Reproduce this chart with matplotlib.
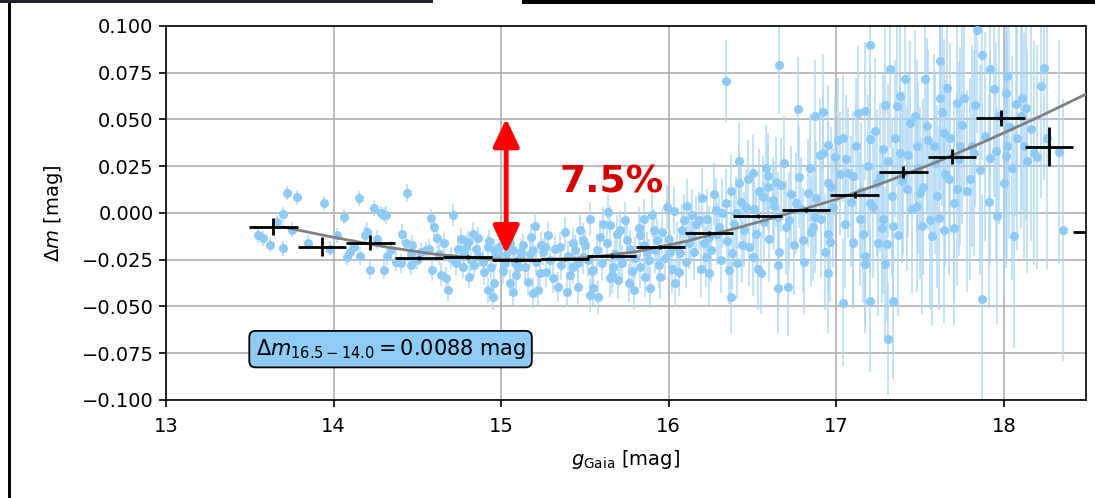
import matplotlib
matplotlib.use("Agg")
from matplotlib import pyplot as plt
from matplotlib.patches import Rectangle
import numpy as np

# individual stars: (g_gaia, delta_m, error)
stars_bright = [
    (13.58, -0.0134, 0.004), (13.62, -0.017, 0.004), (13.70, -0.0188, 0.004),
    (13.70, -0.0006, 0.004), (13.72, 0.0107, 0.004), (13.78, 0.0085, 0.004),
    (13.94, 0.0053, 0.004), (14.15, 0.008, 0.004), (14.24, 0.0026, 0.004),
    (14.28, 0.0, 0.004), (14.30, -0.001, 0.004), (14.20, -0.010, 0.005),
    (14.19, -0.012, 0.005), (14.10, -0.021, 0.004), (14.08, -0.0236, 0.004),
    (14.22, -0.0305, 0.005), (14.30, -0.0305, 0.005), (14.32, -0.023, 0.005),
    (13.55, -0.012, 0.004), (13.66, -0.005, 0.004), (13.75, -0.009, 0.004),
    (13.85, -0.016, 0.004), (13.98, -0.019, 0.004), (14.02, -0.012, 0.004),
    (14.06, -0.002, 0.004), (14.12, -0.018, 0.004), (14.16, -0.023, 0.005),
    (14.26, -0.014, 0.005), (14.34, -0.020, 0.005), (14.37, -0.026, 0.005),
    (14.41, -0.011, 0.005), (14.46, -0.022, 0.005), (14.31, -0.001, 0.005),
    (14.44, 0.0107, 0.005),
]

stars_mid = [
    (14.71, -0.001, 0.006), (14.58, -0.0027, 0.005), (14.60, -0.0075, 0.005),
    (14.62, -0.0134, 0.006), (14.43, -0.016, 0.005), (14.47, -0.017, 0.005),
    (14.55, -0.020, 0.005), (14.40, -0.027, 0.005), (14.46, -0.028, 0.005),
    (14.50, -0.025, 0.005), (14.59, -0.0305, 0.006), (14.64, -0.033, 0.006),
    (14.67, -0.035, 0.006), (14.68, -0.041, 0.006), (14.74, -0.019, 0.006),
    (14.79, -0.018, 0.006), (14.83, -0.011, 0.006), (14.86, -0.0134, 0.006),
    (14.77, -0.029, 0.006), (14.81, -0.034, 0.006), (14.84, -0.028, 0.006),
    (14.90, -0.0316, 0.007), (14.92, -0.0413, 0.007), (14.95, -0.045, 0.007),
    (14.96, -0.0375, 0.007), (14.92, -0.018, 0.006), (14.96, -0.020, 0.006),
    (15.05, -0.0375, 0.007), (15.07, -0.042, 0.007), (15.07, -0.020, 0.007),
    (15.12, -0.021, 0.007), (15.19, -0.020, 0.007), (15.20, -0.007, 0.007),
    (15.16, -0.037, 0.007), (15.19, -0.043, 0.008), (15.22, -0.041, 0.008),
    (15.10, -0.029, 0.007), (15.02, -0.027, 0.007), (15.24, -0.017, 0.007),
    (14.80, -0.0156, 0.006),
    (14.52, -0.021, 0.005), (14.57, -0.019, 0.005), (14.63, -0.022, 0.006),
    (14.66, -0.016, 0.006), (14.70, -0.024, 0.006), (14.73, -0.027, 0.006),
    (14.76, -0.014, 0.006), (14.78, -0.022, 0.006), (14.82, -0.025, 0.006),
    (14.85, -0.019, 0.006), (14.87, -0.023, 0.006), (14.89, -0.026, 0.006),
    (14.93, -0.015, 0.006), (14.94, -0.029, 0.007), (14.97, -0.023, 0.006),
    (14.99, -0.018, 0.006), (15.01, -0.031, 0.007), (15.03, -0.022, 0.006),
    (15.05, -0.016, 0.006), (15.08, -0.027, 0.007), (15.09, -0.033, 0.007),
    (15.11, -0.024, 0.006), (15.13, -0.017, 0.006), (15.14, -0.029, 0.007),
    (15.17, -0.022, 0.007), (15.18, -0.013, 0.007), (15.21, -0.026, 0.007),
    (15.23, -0.032, 0.007), (15.25, -0.021, 0.007), (15.28, -0.012, 0.007),
    (15.29, -0.025, 0.007), (15.31, -0.035, 0.008), (15.32, -0.019, 0.007),
    (15.36, -0.028, 0.008), (15.38, -0.010, 0.008), (15.40, -0.023, 0.008),
    (15.41, -0.033, 0.008), (15.44, -0.020, 0.008), (15.46, -0.027, 0.008),
    (15.47, -0.009, 0.008), (15.50, -0.017, 0.008),
]

stars_faint = [
    (15.53, -0.0033, 0.009), (15.64, 0.0005, 0.009), (15.65, -0.0065, 0.010),
    (15.99, 0.0032, 0.012), (15.85, -0.0033, 0.011), (15.26, -0.018, 0.008),
    (15.27, -0.0316, 0.008), (15.34, -0.0396, 0.008), (15.39, -0.0423, 0.008),
    (15.46, -0.0396, 0.009), (15.55, -0.040, 0.009), (15.53, -0.044, 0.009),
    (15.58, -0.045, 0.009), (15.65, -0.0348, 0.010), (15.70, -0.036, 0.010),
    (15.76, -0.0375, 0.010), (15.79, -0.041, 0.011), (15.89, -0.040, 0.011),
    (15.95, -0.034, 0.012), (16.04, -0.0375, 0.013), (16.06, -0.0316, 0.013),
    (15.43, -0.016, 0.008), (15.35, -0.018, 0.008), (15.49, -0.0145, 0.009),
    (15.59, -0.013, 0.009), (15.71, -0.009, 0.010), (15.75, -0.0145, 0.010),
    (15.83, -0.012, 0.011), (15.91, -0.009, 0.011), (15.93, -0.0145, 0.012),
    (16.09, -0.004, 0.014), (16.14, -0.001, 0.014), (16.13, -0.012, 0.014),
    (15.43, -0.029, 0.009), (15.55, -0.0305, 0.009), (15.67, -0.029, 0.010),
    (15.83, -0.029, 0.011), (15.71, -0.0236, 0.010), (15.49, -0.0236, 0.009),
    (15.87, -0.021, 0.011), (16.01, -0.021, 0.012), (16.07, -0.0215, 0.013),
    (15.52, -0.025, 0.009), (15.54, -0.031, 0.009), (15.57, -0.020, 0.009),
    (15.60, -0.027, 0.009), (15.61, -0.006, 0.009), (15.63, -0.016, 0.009),
    (15.66, -0.033, 0.010), (15.68, -0.022, 0.010), (15.69, -0.011, 0.010),
    (15.72, -0.027, 0.010), (15.74, -0.004, 0.010), (15.77, -0.019, 0.010),
    (15.78, -0.031, 0.010), (15.80, -0.024, 0.011), (15.82, -0.008, 0.011),
    (15.85, -0.017, 0.011), (15.86, -0.034, 0.011), (15.88, -0.025, 0.011),
    (15.90, -0.001, 0.012), (15.92, -0.020, 0.012), (15.94, -0.028, 0.012),
    (15.96, -0.010, 0.012), (15.98, -0.024, 0.012), (16.00, -0.014, 0.013),
    (16.02, -0.030, 0.013), (16.03, 0.001, 0.013), (16.05, -0.018, 0.013),
    (16.08, -0.009, 0.014), (16.10, -0.026, 0.014), (16.11, 0.004, 0.014),
    (16.12, -0.016, 0.014), (16.15, -0.021, 0.015), (16.16, -0.006, 0.015),
    (16.19, -0.030, 0.015), (16.20, 0.008, 0.016),
]

stars_fainter = [
    (16.34, 0.0706, 0.022), (16.66, 0.079, 0.026), (16.77, 0.0556, 0.028),
    (16.87, 0.052, 0.030), (16.92, 0.054, 0.031), (16.42, 0.028, 0.020),
    (16.50, 0.0214, 0.021), (16.59, 0.020, 0.023), (16.64, 0.0166, 0.024),
    (16.42, 0.016, 0.020), (16.95, 0.0363, 0.032), (16.92, 0.032, 0.031),
    (17.01, 0.039, 0.033), (17.04, 0.040, 0.034), (16.99, 0.030, 0.032),
    (16.95, 0.016, 0.032), (16.24, -0.032, 0.017), (16.36, -0.0305, 0.018),
    (16.37, -0.045, 0.019), (16.55, -0.032, 0.022), (16.65, -0.040, 0.024),
    (16.71, -0.0396, 0.026), (16.65, -0.028, 0.024), (16.95, -0.032, 0.032),
    (17.04, -0.048, 0.034), (16.22, -0.0236, 0.016), (16.38, -0.0215, 0.019),
    (16.50, -0.0236, 0.021), (16.24, -0.013, 0.017), (16.30, -0.0075, 0.017),
    (16.46, 0.0032, 0.020), (16.56, 0.0085, 0.022), (16.62, 0.007, 0.023),
    (16.65, -0.002, 0.024), (16.76, 0.0053, 0.027), (16.83, 0.0107, 0.029),
    (16.86, -0.0075, 0.029), (16.80, -0.0145, 0.028), (16.95, -0.011, 0.032),
    (16.96, -0.0156, 0.032), (17.10, -0.0156, 0.035), (17.07, 0.0214, 0.035),
    (16.40, 0.0, 0.019), (16.52, -0.011, 0.021), (16.18, -0.004, 0.015),
    (16.28, 0.0016, 0.017), (16.34, 0.0053, 0.018), (16.59, 0.0139, 0.023),
    (16.70, -0.0075, 0.025), (16.44, -0.017, 0.020), (16.87, -0.002, 0.030),
    (16.21, -0.016, 0.016), (16.23, -0.003, 0.016), (16.25, -0.020, 0.017),
    (16.27, 0.010, 0.017), (16.29, -0.011, 0.017), (16.31, -0.025, 0.018),
    (16.32, 0.000, 0.018), (16.35, -0.015, 0.018), (16.37, 0.012, 0.019),
    (16.39, -0.006, 0.019), (16.41, -0.027, 0.019), (16.43, 0.006, 0.020),
    (16.45, -0.009, 0.020), (16.47, 0.018, 0.021), (16.48, -0.018, 0.021),
    (16.51, 0.002, 0.021), (16.53, -0.030, 0.022), (16.54, 0.012, 0.022),
    (16.57, -0.005, 0.022), (16.58, 0.024, 0.023), (16.60, -0.014, 0.023),
    (16.63, 0.004, 0.024), (16.66, -0.021, 0.024), (16.67, 0.015, 0.025),
    (16.69, 0.027, 0.025), (16.72, -0.004, 0.026), (16.73, 0.010, 0.026),
    (16.75, -0.017, 0.027), (16.78, 0.019, 0.027), (16.79, 0.002, 0.028),
    (16.81, -0.026, 0.028), (16.84, 0.024, 0.029), (16.85, -0.010, 0.029),
    (16.88, 0.008, 0.030), (16.90, 0.031, 0.030), (16.91, -0.003, 0.031),
    (16.93, -0.021, 0.031), (16.97, 0.014, 0.032), (16.98, 0.003, 0.032),
]

stars_faintest = [
    (17.20, 0.090, 0.040), (17.62, 0.0813, 0.050), (17.32, 0.077, 0.042),
    (17.87, 0.0845, 0.056), (17.84, 0.098, 0.055), (17.41, 0.0716, 0.044),
    (17.53, 0.0716, 0.047), (17.66, 0.067, 0.051), (17.38, 0.0626, 0.043),
    (17.62, 0.0615, 0.050), (17.72, 0.0588, 0.052), (17.76, 0.0615, 0.053),
    (17.29, 0.0577, 0.041), (17.36, 0.057, 0.043), (17.13, 0.0535, 0.036),
    (17.17, 0.0545, 0.037), (17.94, 0.0663, 0.058), (17.92, 0.077, 0.057),
    (17.44, 0.048, 0.044), (17.54, 0.0465, 0.047), (17.64, 0.0428, 0.050),
    (17.20, 0.0395, 0.038), (17.28, 0.034, 0.040), (17.38, 0.032, 0.043),
    (17.48, 0.0358, 0.046), (17.58, 0.0358, 0.049), (17.74, 0.0358, 0.053),
    (17.82, 0.032, 0.055), (17.92, 0.0294, 0.057), (17.10, 0.0197, 0.035),
    (17.24, 0.016, 0.039), (17.42, 0.0128, 0.044), (17.50, 0.0107, 0.046),
    (17.60, 0.009, 0.049), (17.67, 0.018, 0.051), (17.72, 0.0128, 0.052),
    (17.80, 0.018, 0.054), (17.70, 0.0053, 0.052), (17.20, 0.0053, 0.038),
    (17.14, -0.0033, 0.036), (17.28, -0.0033, 0.040), (17.34, -0.007, 0.042),
    (17.51, -0.007, 0.047), (17.61, -0.0027, 0.049), (17.96, -0.0016, 0.058),
    (17.10, -0.016, 0.035), (17.25, -0.016, 0.039), (17.30, -0.0166, 0.041),
    (17.57, -0.0123, 0.048), (17.64, -0.009, 0.050), (17.17, -0.023, 0.037),
    (17.17, -0.0273, 0.037), (17.29, -0.0273, 0.041), (17.20, -0.047, 0.038),
    (17.34, -0.047, 0.042), (17.87, -0.046, 0.056), (17.31, -0.0675, 0.030),
    (17.40, 0.0214, 0.044), (17.48, 0.0037, 0.046),
    (17.02, 0.021, 0.033), (17.05, -0.006, 0.034), (17.06, 0.029, 0.034),
    (17.09, 0.006, 0.035), (17.12, 0.036, 0.036), (17.15, 0.012, 0.036),
    (17.16, -0.011, 0.037), (17.19, 0.025, 0.038), (17.22, 0.003, 0.038),
    (17.23, 0.044, 0.039), (17.26, 0.019, 0.040), (17.27, -0.008, 0.040),
    (17.31, 0.028, 0.041), (17.33, 0.009, 0.042), (17.35, 0.040, 0.042),
    (17.37, -0.012, 0.043), (17.39, 0.017, 0.044), (17.43, 0.031, 0.044),
    (17.45, 0.002, 0.045), (17.47, 0.052, 0.046), (17.49, 0.024, 0.046),
    (17.52, 0.014, 0.047), (17.55, 0.039, 0.048), (17.56, -0.004, 0.048),
    (17.59, 0.027, 0.049), (17.63, 0.054, 0.050), (17.65, 0.021, 0.050),
    (17.68, 0.040, 0.051), (17.70, -0.008, 0.052), (17.73, 0.029, 0.052),
    (17.75, 0.047, 0.053), (17.78, 0.012, 0.054), (17.81, 0.036, 0.054),
    (17.83, 0.058, 0.055), (17.86, 0.023, 0.056), (17.89, 0.041, 0.056),
    (17.91, 0.006, 0.057), (17.95, 0.033, 0.058), (17.97, 0.052, 0.058),
    (18.24, 0.0775, 0.060), (18.22, 0.068, 0.060), (18.07, 0.0583, 0.060),
    (18.11, 0.0615, 0.060), (18.13, 0.056, 0.060), (18.02, 0.0358, 0.060),
    (18.01, 0.0304, 0.060), (18.14, 0.0278, 0.060), (18.18, 0.032, 0.060),
    (18.33, 0.0326, 0.060), (18.00, 0.016, 0.060), (18.06, -0.0123, 0.060),
    (18.35, -0.009, 0.070), (18.01, 0.064, 0.060), (18.02, 0.073, 0.060),
    (18.03, 0.046, 0.060), (18.05, 0.024, 0.060), (18.08, 0.040, 0.060),
    (18.10, 0.052, 0.060), (18.12, 0.036, 0.060), (18.16, 0.045, 0.060),
    (18.20, 0.030, 0.060), (18.26, 0.040, 0.070),
]

# binned medians (black crosses)
bin_g = [13.64, 13.93, 14.22, 14.51, 14.80, 15.09, 15.38, 15.66, 15.95,
         16.24, 16.53, 16.82, 17.11, 17.40, 17.69, 17.98, 18.27, 18.56]
bin_dm = [-0.0073, -0.018, -0.0159, -0.024, -0.0235, -0.025, -0.0248, -0.023,
          -0.018, -0.0108, -0.0016, 0.0016, 0.0096, 0.0219, 0.030, 0.0508,
          0.0355, -0.010]
bin_dm_err = [0.0045, 0.005, 0.004, 0.001, 0.001, 0.001, 0.001, 0.001, 0.001,
              0.001, 0.001, 0.001, 0.0015, 0.003, 0.004, 0.0045, 0.0105, 0.01]
bin_half_width = 0.145

# fitted trend (grey curve) read at a few magnitudes
fit_g = [13.70, 14.00, 14.30, 14.60, 14.90, 15.20, 15.50, 15.80, 16.10,
         16.40, 16.70, 17.00, 17.30, 17.60, 17.90, 18.20, 18.50]
fit_dm = [-0.0075, -0.0130, -0.0180, -0.0220, -0.0245, -0.0250, -0.0240,
          -0.0208, -0.0152, -0.0082, -0.0007, 0.0073, 0.0168, 0.0273,
          0.0388, 0.0510, 0.0640]

stars = np.array(stars_bright + stars_mid + stars_faint + stars_fainter + stars_faintest)

fig = plt.figure(figsize=(10.95, 4.98), dpi=100)
ax = fig.add_axes([0.1516, 0.1968, 0.8402, 0.751])

ax.errorbar(stars[:, 0], stars[:, 1], yerr=stars[:, 2], fmt="none",
            ecolor="#a9d5f6", elinewidth=1.4, alpha=0.7, zorder=2)
ax.plot(stars[:, 0], stars[:, 1], "o", color="#8fcaf4", ms=6.5, mec="none", zorder=3)

ax.plot(fit_g, fit_dm, color="#808080", lw=2, zorder=4)
ax.errorbar(bin_g, bin_dm, xerr=bin_half_width, yerr=bin_dm_err, fmt="none",
            ecolor="black", elinewidth=2, zorder=5)

# red double arrow and label
ax.annotate("", xy=(15.03, 0.0505), xytext=(15.03, -0.0218),
            arrowprops=dict(arrowstyle="<|-|>,head_length=1.7,head_width=0.8",
                            color="#ff0000", lw=3.5, shrinkA=0, shrinkB=0), zorder=6)
ax.text(15.66, 0.0165, "7.5%", color="#d40000", fontsize=27, fontweight="bold",
        ha="center", va="center", zorder=6)

ax.text(14.34, -0.0728, r"$\Delta m_{16.5-14.0} = 0.0088$ mag", fontsize=15,
        ha="center", va="center", zorder=6,
        bbox=dict(boxstyle="round,pad=0.3", fc="#8ecbf5", ec="black", lw=1.3))

ax.set_xlim(13, 18.49)
ax.set_ylim(-0.1, 0.1)
ax.set_xticks([13, 14, 15, 16, 17, 18])
ax.set_yticks(np.arange(-0.1, 0.1001, 0.025))
ax.set_yticklabels(["\u22120.100", "\u22120.075", "\u22120.050", "\u22120.025",
                    "0.000", "0.025", "0.050", "0.075", "0.100"])
ax.tick_params(labelsize=14, length=5, width=1.2, pad=4)
ax.tick_params(axis="x", pad=7)
ax.grid(True, color="#b0b0b0", lw=1.2, zorder=0)
ax.set_axisbelow(True)
for s in ax.spines.values():
    s.set_linewidth(1.2)
ax.set_xlabel(r"$g_{\mathrm{Gaia}}$ [mag]", fontsize=14, labelpad=9)
ax.set_ylabel(r"$\Delta m$ [mag]", fontsize=14, labelpad=12)

# screenshot frame remnants
fig.add_artist(Rectangle((0, 0.993), 0.395, 0.007, transform=fig.transFigure,
                         color="#1d2327", lw=0))
fig.add_artist(Rectangle((0.477, 0.991), 0.523, 0.009, transform=fig.transFigure,
                         color="black", lw=0))
fig.add_artist(Rectangle((0.0075, 0), 0.003, 0.993, transform=fig.transFigure,
                         color="black", lw=0))

fig.savefig("out.png", dpi=100)
